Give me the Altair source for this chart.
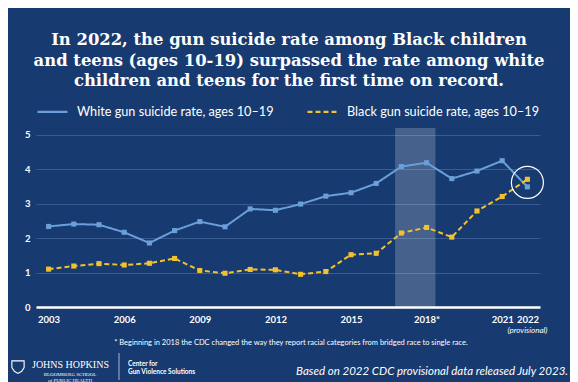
import altair as alt
import pandas as pd

years = list(range(2003, 2023))
white_rate = [2.34, 2.41, 2.39, 2.17, 1.86, 2.22, 2.48, 2.33, 2.85, 2.81,
              2.99, 3.22, 3.32, 3.59, 4.08, 4.19, 3.73, 3.95, 4.25, 3.49]
black_rate = [1.10, 1.19, 1.26, 1.22, 1.27, 1.41, 1.06, 0.98, 1.09, 1.08,
              0.95, 1.03, 1.52, 1.56, 2.15, 2.31, 2.03, 2.79, 3.21, 3.71]
series_names = ["White gun suicide rate, ages 10\u201319",
                "Black gun suicide rate, ages 10\u201319"]
x_ticks = [2003, 2006, 2009, 2012, 2015, 2018, 2021, 2022]
y_ticks = [0, 1, 2, 3, 4, 5]
band_years = [2016.75, 2018.35]
highlight = [2022, 3.62]

title_lines = [
    "In 2022, the gun suicide rate among Black children",
    "and teens (ages 10-19) surpassed the rate among white",
    "children and teens for the first time on record.",
]
footnote = "* Beginning in 2018 the CDC changed the way they report racial categories from bridged race to single race."
source = "Based on 2022 CDC provisional data released July 2023."

BG = "#173a70"
W, H = 504, 179

rows = []
for i, yr in enumerate(years):
    rows.append({"year": yr, "rate": white_rate[i], "series": series_names[0]})
    rows.append({"year": yr, "rate": black_rate[i], "series": series_names[1]})
df = pd.DataFrame(rows)

xscale = alt.Scale(domain=[2002.5, 2022.5], nice=False, zero=False)
yscale = alt.Scale(domain=[0, 5.2], nice=False)

xaxis = alt.Axis(
    values=x_ticks, title=None, grid=False, ticks=False,
    labelExpr="datum.value == 2018 ? '2018*' : '' + datum.value",
    domainColor="white", domainWidth=2.5, labelColor="white",
    labelFont="Lato", labelFontWeight="bold", labelFontSize=9.5,
    labelPadding=7, labelOverlap=False, labelFlush=False, zindex=1)
yaxis = alt.Axis(
    values=y_ticks, title=None, domain=False, ticks=False, grid=True,
    gridColor="#3a5b91", gridWidth=1, labelColor="white",
    labelFont="Lato", labelFontWeight="bold", labelFontSize=9.5,
    labelPadding=6, labelOverlap=False, labelFlush=False)

band = alt.Chart(pd.DataFrame({"x1": [band_years[0]], "x2": [band_years[1]],
                               "y1": [0], "y2": [5.2]})).mark_rect(
    color="white", opacity=0.2
).encode(
    x=alt.X("x1:Q", scale=xscale, axis=xaxis),
    x2="x2:Q",
    y=alt.Y("y1:Q", scale=yscale, axis=yaxis),
    y2="y2:Q",
)

leg = dict(orient="none", legendX=0, legendY=-33, direction="horizontal",
           title=None, symbolType="stroke", symbolSize=900,
           symbolStrokeWidth=2.2, labelColor="white", labelFont="Lato",
           labelFontSize=12.7, labelLimit=400, labelOffset=8,
           columnPadding=29, padding=0)

lines = alt.Chart(df).mark_line(
    strokeWidth=2,
    point=alt.OverlayMarkDef(shape="square", size=26, filled=True, opacity=1),
).encode(
    x=alt.X("year:Q", scale=xscale, axis=xaxis),
    y=alt.Y("rate:Q", scale=yscale, axis=yaxis),
    color=alt.Color("series:N", scale=alt.Scale(domain=series_names, range=["#6a9fda", "#f2c12e"]),
                    legend=alt.Legend(**leg)),
    strokeDash=alt.StrokeDash("series:N", scale=alt.Scale(domain=series_names, range=[[1, 0], [5, 3]]),
                              legend=alt.Legend(**leg)),
)

circle = alt.Chart(pd.DataFrame({"x": [highlight[0]], "y": [highlight[1]]})).mark_point(
    shape="circle", size=1024, filled=False, color="white", strokeWidth=1.2, opacity=1
).encode(x=alt.X("x:Q", scale=xscale, axis=xaxis), y=alt.Y("y:Q", scale=yscale, axis=yaxis))

prov = alt.Chart(pd.DataFrame({"x": [2022]})).mark_text(
    text="(provisional)", font="Lato", fontStyle="italic", fontSize=8, color="white", baseline="middle"
).encode(x=alt.X("x:Q", scale=xscale, axis=xaxis), y=alt.value(H + 24))

def txt(text, x, y, size, font="Lato", weight="normal", style="normal", align="center", color="white"):
    return alt.Chart(pd.DataFrame({"t": [text]})).mark_text(
        font=font, fontSize=size, fontWeight=weight, fontStyle=style, align=align,
        baseline="middle", color=color
    ).encode(text="t:N", x=alt.value(x), y=alt.value(y))

layers = [band, lines, circle, prov]
for i, line in enumerate(title_lines):
    layers.append(txt(line, 253, -88 + i * 20.5, 16.4, font="DejaVu Serif", weight="bold"))
layers.append(txt(footnote, 255, 215, 7.5))
layers.append(txt(source, 532, 244, 11.5, style="italic", align="right"))
layers.append(txt("JOHNS HOPKINS", -4, 237, 10, font="Liberation Serif", align="left"))
layers.append(txt("BLOOMBERG SCHOOL", 34, 246, 5, font="Liberation Serif"))
layers.append(txt("of PUBLIC HEALTH", 34, 252, 5, font="Liberation Serif"))
layers.append(txt("Center for", 92, 236, 6.5, weight="bold", align="left"))
layers.append(txt("Gun Violence Solutions", 92, 244, 6.5, weight="bold", align="left"))

divider = alt.Chart(pd.DataFrame({"a": [0]})).mark_rule(color="white", strokeWidth=0.8, opacity=0.8).encode(
    x=alt.value(83), y=alt.value(225), y2=alt.value(252))
shield = alt.Chart(pd.DataFrame({"a": [0]})).mark_point(
    shape="M-1,-1L1,-1L1,0.1L0.6,0.7L0,1.05L-0.6,0.7L-1,0.1Z", size=150, filled=False,
    color="white", strokeWidth=1.1, opacity=1
).encode(x=alt.value(-18), y=alt.value(239))
layers += [divider, shield]

chart = alt.layer(*layers).properties(
    width=W, height=H, background=BG,
    autosize=alt.AutoSizeParams(type="none"),
    padding={"left": 28, "top": 120, "right": 30, "bottom": 75},
).configure_view(stroke=None)

chart.save("out.html", embed_options={"renderer": "svg", "actions": False})
